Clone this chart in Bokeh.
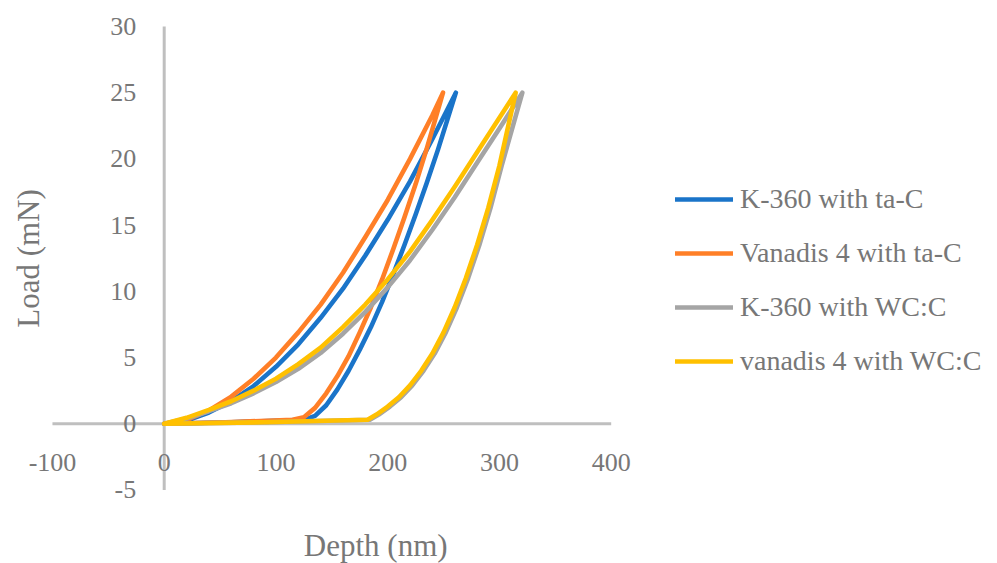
from bokeh.plotting import figure
from bokeh.models import FixedTicker, Legend, LegendItem, Label, Range1d
from bokeh.embed import file_html
from bokeh.resources import INLINE
import math

# ---------------- data ----------------
series_names = ["K-360 with ta-C", "Vanadis 4 with ta-C", "K-360 with WC:C", "vanadis 4 with WC:C"]
series_colors = ["#1A74C9", "#FF7F27", "#A5A5A5", "#FFC000"]

x_ticks = [-100, 0, 100, 200, 300, 400]
y_ticks = [-5, 0, 5, 10, 15, 20, 25, 30]

# K-360 with ta-C : loading, unloading, withdrawal
k360_tac_depth = [0, 20, 40, 60, 80, 100, 120, 140, 160, 180, 200, 220, 240, 261,
                  245, 235, 225, 215, 205, 195, 185, 175, 165, 155, 145, 135, 125,
                  60, 0]
k360_tac_load = [0, 0.25, 0.85, 1.7, 2.85, 4.3, 6.0, 8.0, 10.2, 12.7, 15.4, 18.3, 21.5, 25.0,
                 20.7, 18.2, 15.8, 13.5, 11.3, 9.2, 7.3, 5.6, 4.0, 2.6, 1.4, 0.6, 0.3,
                 0.12, 0]

# Vanadis 4 with ta-C
van_tac_depth = [0, 20, 40, 60, 80, 100, 120, 140, 160, 180, 200, 220, 240, 249.5,
                 235, 225, 215, 205, 195, 185, 175, 165, 155, 145, 135, 125, 115,
                 55, 0]
van_tac_load = [0, 0.3, 1.0, 2.05, 3.4, 5.0, 6.9, 9.0, 11.4, 14.1, 16.9, 20.0, 23.3, 25.0,
                20.8, 18.1, 15.6, 13.2, 10.9, 8.8, 6.9, 5.1, 3.6, 2.3, 1.2, 0.5, 0.3,
                0.12, 0]

# K-360 with WC:C
k360_wcc_depth = [0, 20, 40, 60, 80, 100, 120, 140, 160, 180, 200, 220, 240, 260, 280, 300, 320.5,
                  302, 292, 282, 272, 262, 252, 242, 232, 222, 212, 202, 192, 184,
                  90, 0]
k360_wcc_load = [0, 0.4, 0.95, 1.55, 2.3, 3.15, 4.15, 5.35, 6.8, 8.45, 10.3, 12.35, 14.65, 17.1, 19.7, 22.3, 25.0,
                 19.5, 16.3, 13.5, 11.0, 8.8, 6.9, 5.3, 4.0, 2.9, 2.0, 1.3, 0.7, 0.3,
                 0.12, 0]

# vanadis 4 with WC:C
van_wcc_depth = [0, 20, 40, 60, 80, 100, 120, 140, 160, 180, 200, 220, 240, 260, 280, 300, 314.5,
                 300, 290, 280, 270, 260, 250, 240, 230, 220, 210, 200, 190, 182,
                 90, 0]
van_wcc_load = [0, 0.45, 1.05, 1.7, 2.5, 3.4, 4.5, 5.75, 7.3, 9.0, 10.9, 13.0, 15.4, 17.9, 20.5, 23.1, 25.0,
                19.5, 16.3, 13.5, 11.0, 8.8, 6.9, 5.3, 4.0, 2.9, 2.0, 1.3, 0.7, 0.3,
                0.12, 0]

series_depths = [k360_tac_depth, van_tac_depth, k360_wcc_depth, van_wcc_depth]
series_loads = [k360_tac_load, van_tac_load, k360_wcc_load, van_wcc_load]

FONT = "Liberation Serif"
TEXT_COLOR = "#777777"
AXIS_COLOR = "#BFBFBF"

# the plotting frame fills the whole canvas; the drawn axes span the tick range only
p = figure(width=997, height=563,
           x_range=Range1d(-146.5, 745.7), y_range=Range1d(-10.55, 31.96),
           output_backend="svg", toolbar_location=None,
           min_border=0, min_border_left=0, min_border_right=0,
           min_border_top=0, min_border_bottom=0)

p.grid.visible = False
p.outline_line_color = None
p.background_fill_color = "white"
p.border_fill_color = "white"

# axis lines crossing at zero (Excel style)
p.segment(x0=[x_ticks[0], 0], y0=[0, y_ticks[0]], x1=[x_ticks[-1], 0], y1=[0, y_ticks[-1]],
          line_color=AXIS_COLOR, line_width=3)

for ax, ticks, standoff in ((p.xaxis[0], x_ticks, 30), (p.yaxis[0], y_ticks, 28)):
    ax.fixed_location = 0
    ax.ticker = FixedTicker(ticks=ticks)
    ax.major_label_overrides = {t: str(t) for t in ticks}
    ax.axis_line_color = None
    ax.major_tick_line_color = None
    ax.minor_tick_line_color = None
    ax.major_tick_out = 0
    ax.major_tick_in = 0
    ax.major_label_standoff = standoff
    ax.major_label_text_font = FONT
    ax.major_label_text_font_size = "26px"
    ax.major_label_text_color = TEXT_COLOR

renderers = []
for d, l, c in zip(series_depths, series_loads, series_colors):
    r = p.line(d, l, line_color=c, line_width=4.6, line_join="round", line_cap="round")
    renderers.append(r)

legend = Legend(items=[LegendItem(label=n, renderers=[r]) for n, r in zip(series_names, renderers)],
                location=(675, 186),
                border_line_color=None, background_fill_alpha=0,
                glyph_width=58, glyph_height=20, label_standoff=7, spacing=22, padding=10,
                label_text_font=FONT, label_text_font_size="28px", label_text_color=TEXT_COLOR)
p.add_layout(legend)

p.add_layout(Label(x=189.3, y=-9.19, text="Depth (nm)", text_align="center", text_baseline="middle",
                   text_font=FONT, text_font_size="31px", text_color=TEXT_COLOR))
p.add_layout(Label(x=-121.3, y=12.48, text="Load (mN)", text_align="center", text_baseline="middle",
                   angle=math.pi / 2,
                   text_font=FONT, text_font_size="31px", text_color=TEXT_COLOR))

open("out.html", "w").write(file_html(p, INLINE))
